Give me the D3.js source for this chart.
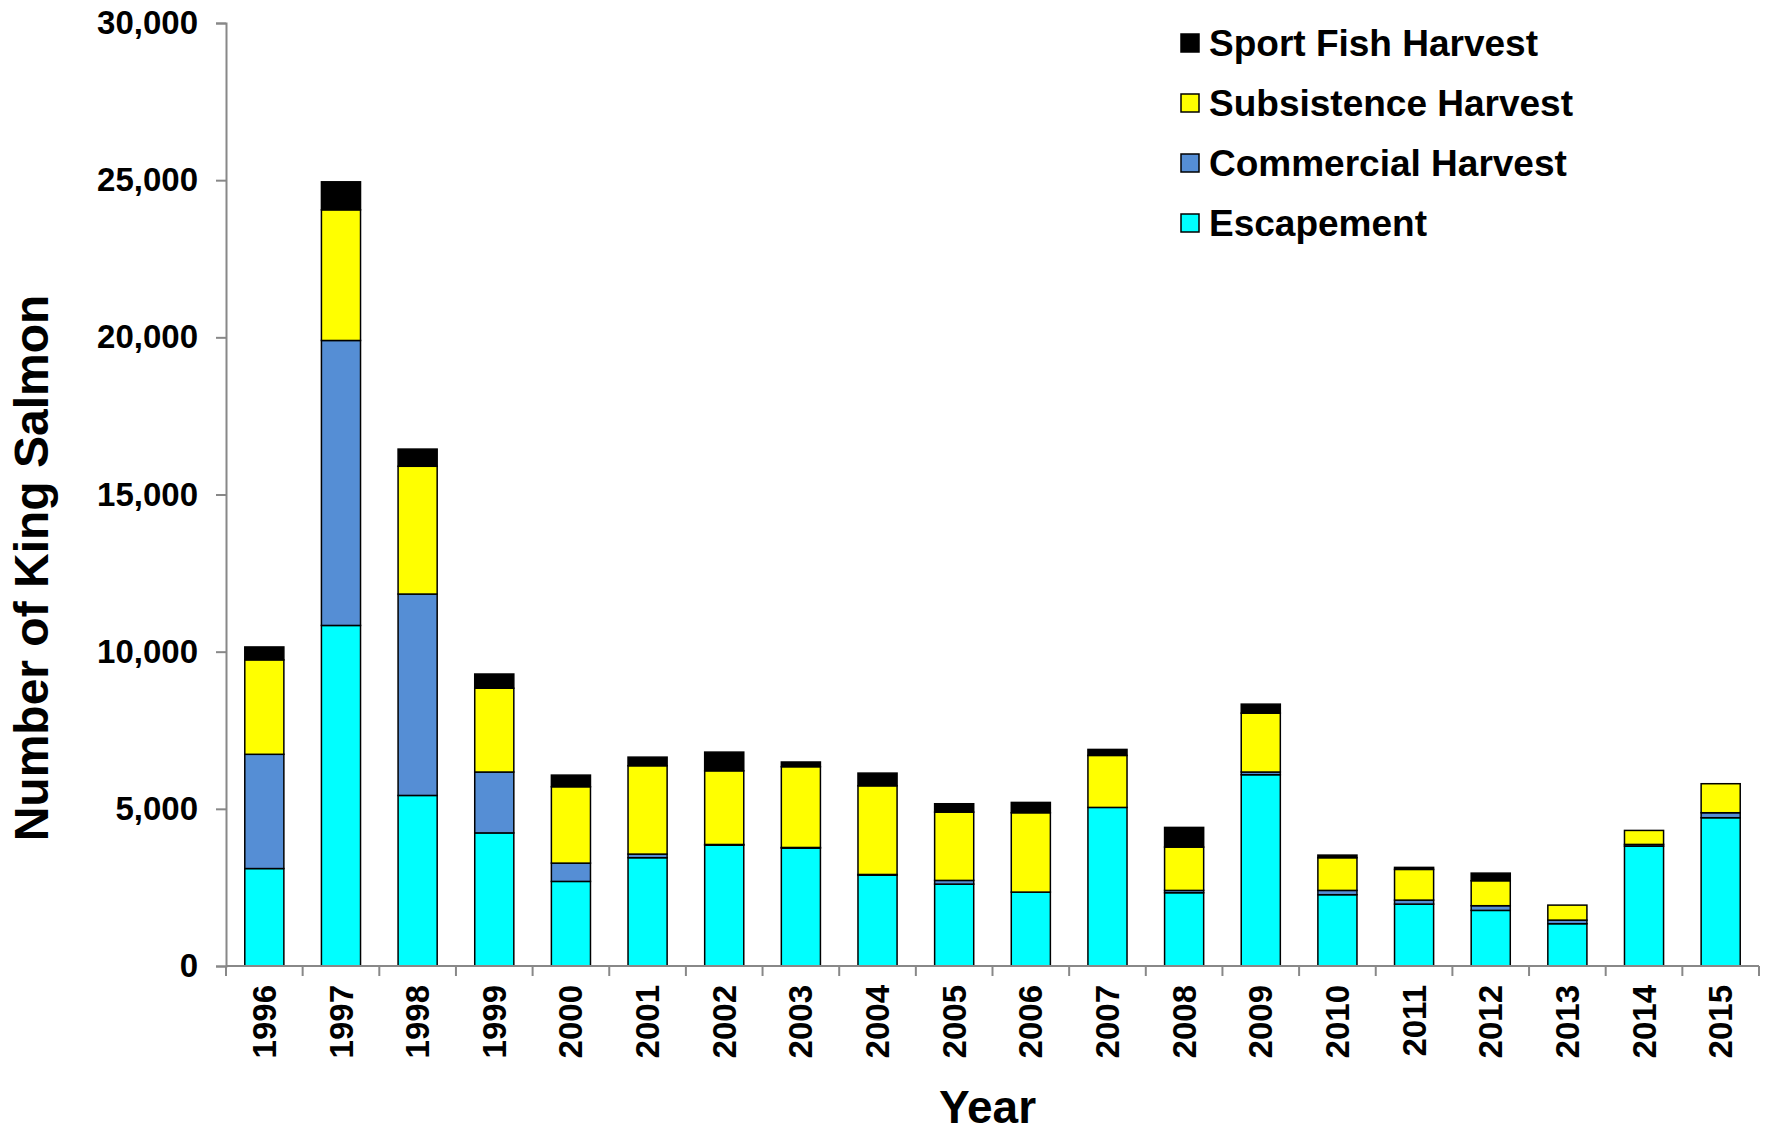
<!DOCTYPE html>
<html>
<head>
<meta charset="utf-8">
<script src="https://cdn.jsdelivr.net/npm/d3@7"></script>
<style>
  body { margin: 0; background: #fff; }
  text { font-family: "Liberation Sans", Arial, sans-serif; font-weight: bold; }
</style>
</head>
<body>
<div id="graph"></div>
<script>
// Data
var years = ["1996", "1997", "1998", "1999", "2000", "2001", "2002", "2003", "2004", "2005",
  "2006", "2007", "2008", "2009", "2010", "2011", "2012", "2013", "2014", "2015"];

var escapement = [3100, 10834, 5426, 4234, 2691, 3445, 3846, 3751, 2892, 2605,
  2351, 5045, 2331, 6085, 2268, 1969, 1769, 1345, 3814, 4717];
var commercial = [3635, 9066, 6407, 1937, 582, 115, 20, 20, 20, 118,
  0, 0, 74, 86, 137, 127, 149, 115, 54, 159];
var subsistence = [3005, 4157, 4065, 2666, 2430, 2811, 2344, 2569, 2821, 2173,
  2525, 1654, 1378, 1874, 1040, 977, 795, 477, 445, 923];
var sportFish = [410, 891, 547, 452, 370, 274, 595, 150, 404, 266,
  328, 191, 626, 286, 83, 64, 242, 0, 0, 0];

var yTicks = [0, 5000, 10000, 15000, 20000, 25000, 30000];

var seriesKeys = ["escapement", "commercial", "subsistence", "sport"];
var seriesNames = { escapement: "Escapement", commercial: "Commercial Harvest",
  subsistence: "Subsistence Harvest", sport: "Sport Fish Harvest" };
var colors = { escapement: "#00ffff", commercial: "#558ed5", subsistence: "#ffff00", sport: "#000000" };

////////////////////////////////////////////////////////////////////////////////
const WIDTH = 1769;
const HEIGHT = 1132;

var margin = { top: 23, right: 10, bottom: 166, left: 226 },
  width = WIDTH - margin.left - margin.right,
  height = HEIGHT - margin.top - margin.bottom;

// table for the stack layout
var table = years.map(function (y, i) {
  return { year: y, escapement: escapement[i], commercial: commercial[i],
    subsistence: subsistence[i], sport: sportFish[i] };
});
var stacked = d3.stack().keys(seriesKeys)(table);

var x = d3.scaleBand().domain(years).range([0, width]).paddingInner(0.49).paddingOuter(0.245);
var y = d3.scaleLinear().domain([0, 30000]).range([height, 0]);

var svg = d3.select("#graph")
  .append("svg")
  .attr("width", WIDTH)
  .attr("height", HEIGHT);

var g = svg.append("g")
  .attr("transform", "translate(" + margin.left + "," + margin.top + ")");

// Bars
g.selectAll("g.layer")
  .data(stacked)
  .enter().append("g")
  .attr("class", "layer")
  .attr("fill", function (d) { return colors[d.key]; })
  .selectAll("rect")
  .data(function (d) { return d.filter(function (p) { return p[1] - p[0] > 0; }); })
  .enter().append("rect")
  .attr("x", function (d) { return x(d.data.year); })
  .attr("y", function (d) { return y(d[1]); })
  .attr("width", x.bandwidth())
  .attr("height", function (d) { return y(d[0]) - y(d[1]); })
  .attr("stroke", "#000")
  .attr("stroke-width", 1.5);

// Y axis
var yAxis = g.append("g")
  .call(d3.axisLeft(y).tickValues(yTicks).tickSize(10).tickPadding(18)
    .tickFormat(d3.format(",")));
yAxis.selectAll("path, line").attr("stroke", "#888").attr("stroke-width", 2);
yAxis.selectAll("text").attr("font-size", 33).attr("fill", "#000")
  .style("font-family", "'Liberation Sans', Arial, sans-serif").style("font-weight", "bold");

// X axis: ticks between categories
var xAxis = g.append("g").attr("transform", "translate(0," + height + ")");
xAxis.append("line")
  .attr("x1", 0).attr("x2", width)
  .attr("stroke", "#888").attr("stroke-width", 2);
var step = x.step();
xAxis.selectAll("line.tick")
  .data(d3.range(years.length + 1))
  .enter().append("line")
  .attr("class", "tick")
  .attr("x1", function (i) { return i * step; })
  .attr("x2", function (i) { return i * step; })
  .attr("y1", 0).attr("y2", 10)
  .attr("stroke", "#888").attr("stroke-width", 2);
xAxis.selectAll("text")
  .data(years)
  .enter().append("text")
  .attr("transform", function (d) {
    return "translate(" + (x(d) + x.bandwidth() / 2) + ",19) rotate(-90)";
  })
  .attr("text-anchor", "end")
  .attr("dy", "0.35em")
  .attr("font-size", 33)
  .text(function (d) { return d; });

// Axis titles
svg.append("text")
  .attr("transform", "translate(48,568) rotate(-90)")
  .attr("text-anchor", "middle")
  .attr("font-size", 48)
  .text("Number of King Salmon");

svg.append("text")
  .attr("x", margin.left + width / 2 - 5)
  .attr("y", 1123)
  .attr("text-anchor", "middle")
  .attr("font-size", 46)
  .text("Year");

// Legend
var legendKeys = ["sport", "subsistence", "commercial", "escapement"];
var legend = svg.append("g").attr("transform", "translate(1181,0)");
var rows = legend.selectAll("g")
  .data(legendKeys)
  .enter().append("g")
  .attr("transform", function (d, i) { return "translate(0," + (43 + i * 60) + ")"; });
rows.append("rect")
  .attr("x", 0).attr("y", -9)
  .attr("width", 18).attr("height", 18)
  .attr("fill", function (d) { return colors[d]; })
  .attr("stroke", "#000").attr("stroke-width", 1.5);
rows.append("text")
  .attr("x", 28).attr("y", 13)
  .attr("font-size", 37)
  .text(function (d) { return seriesNames[d]; });
</script>
</body>
</html>
